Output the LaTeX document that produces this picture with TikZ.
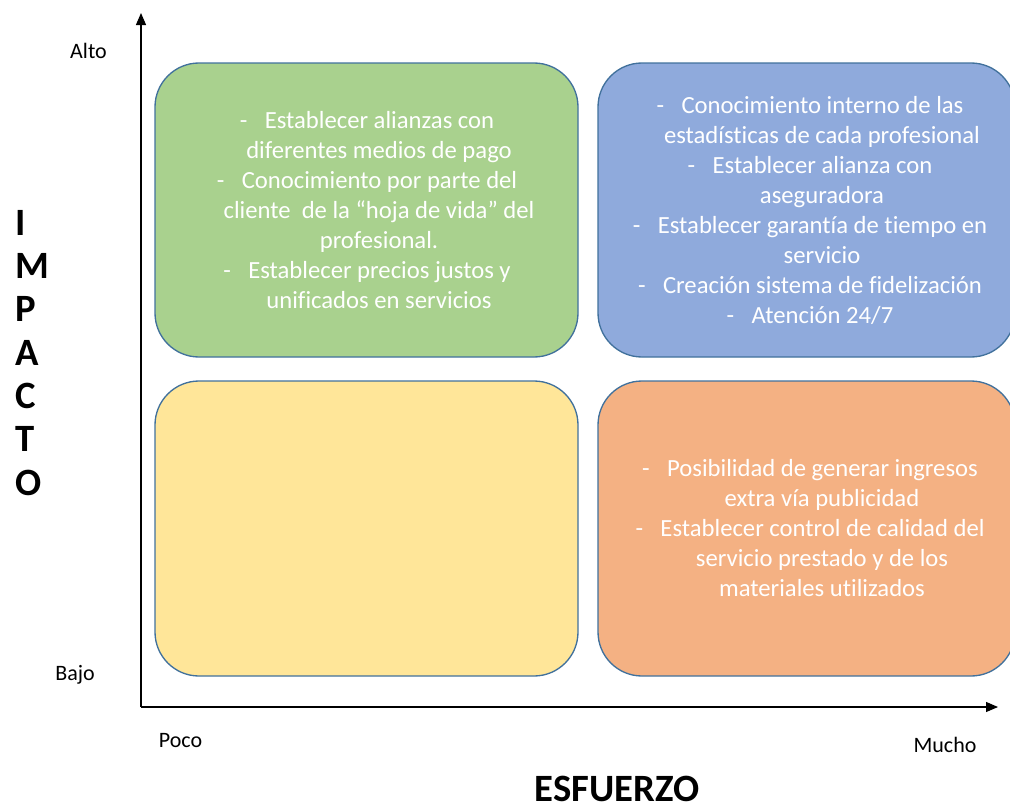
\documentclass[tikz,border=0pt]{standalone}
\usepackage{fontspec}
\setmainfont[Ligatures={NoCommon}]{Carlito}
\usetikzlibrary{arrows.meta}
\definecolor{cgreen}{HTML}{A9D18E}
\definecolor{cblue}{HTML}{8FAADC}
\definecolor{cyellow}{HTML}{FFE699}
\definecolor{corange}{HTML}{F4B183}
\definecolor{cborder}{HTML}{41719C}
\newcommand\mybul{\makebox[18.75pt][l]{-}}
\newcommand\myind{\hspace*{18pt}}
\begin{document}
\begin{tikzpicture}[x=0.75pt,y=-0.75pt,
  quad/.style={draw=cborder, line width=1pt, rounded corners=33pt, inner sep=0pt},
  boxtext/.style={text=white, align=center, font=\fontsize{18.5}{22.5}\selectfont, inner sep=0pt},
  axis/.style={line width=0.9pt, -{Triangle[length=9pt,width=7.5pt]}},
  lbl/.style={font=\fontsize{16.5}{20}\selectfont, anchor=base, inner sep=0pt},
  vlet/.style={font=\fontsize{29}{34}\selectfont\bfseries, anchor=base west, inner sep=0pt},
  title/.style={font=\fontsize{29}{34}\selectfont\bfseries, anchor=base, inner sep=0pt}]
\useasboundingbox (0,0) rectangle (1010,810);
\clip (0,0) rectangle (1010,810);

% axes
\coordinate (O) at (141,707);
\coordinate (ytip) at (141,13);
\coordinate (xtip) at (998,707);
\draw[axis] (O) -- (ytip);
\draw[axis] (O) -- (xtip);

% quadrants
\node[quad, fill=cgreen, minimum width=317.25pt, minimum height=220.5pt] (q1) at (366.5,210) {};
\node[quad, fill=cblue, minimum width=312.75pt, minimum height=220.5pt] (q2) at (806.5,210) {};
\node[quad, fill=cyellow, minimum width=317.25pt, minimum height=221.25pt] (q3) at (366.5,528.5) {};
\node[quad, fill=corange, minimum width=312.75pt, minimum height=221.25pt] (q4) at (806.5,528.5) {};

% texts
\node[boxtext] (t1) at (367,210) {%
\mybul Establecer alianzas con\\
\myind diferentes medios de pago\\
\mybul Conocimiento por parte del\\
\myind cliente\ \ de la “hoja de vida” del\\
\myind profesional.\\
\mybul Establecer precios justos y\\
\myind unificados en servicios};

\node[boxtext] (t2) at (810,210) {%
\mybul Conocimiento interno de las\\
\myind estadísticas de cada profesional\\
\mybul Establecer alianza con\\
\myind aseguradora\\
\mybul Establecer garantía de tiempo en\\
\myind servicio\\
\mybul Creación sistema de fidelización\\
\mybul Atención 24/7};

\node[boxtext] (t4) at (810,528.5) {%
\mybul Posibilidad de generar ingresos\\
\myind extra vía publicidad\\
\mybul Establecer control de calidad del\\
\myind servicio prestado y de los\\
\myind materiales utilizados};

% axis labels
\node[lbl] (alto) at (88.5,58) {Alto};
\node[lbl] (bajo) at (75,680) {Bajo};
\node[lbl] (poco) at (180.5,747) {Poco};
\node[lbl] (mucho) at (945,752) {Mucho};
\node[title] (esf) at (617,801) {ESFUERZO};

\node[vlet] (v1) at (15,235) {I};
\node[vlet] (v2) at (15,278.3) {M};
\node[vlet] (v3) at (15,321.6) {P};
\node[vlet] (v4) at (15,365) {A};
\node[vlet] (v5) at (15,408.3) {C};
\node[vlet] (v6) at (15,451.6) {T};
\node[vlet] (v7) at (15,495) {O};
\end{tikzpicture}
\end{document}
